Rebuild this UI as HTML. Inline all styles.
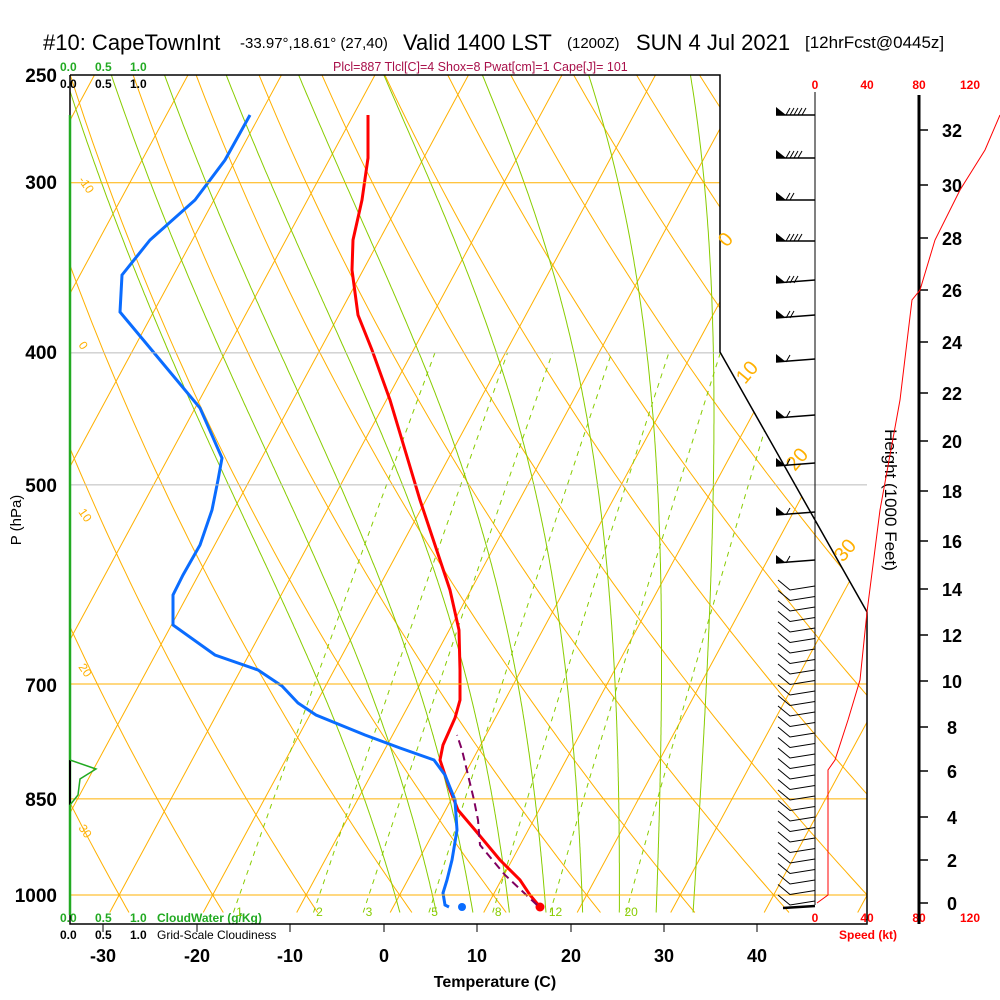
<!DOCTYPE html>
<html><head><meta charset="utf-8"><style>
body{margin:0;background:#fff}
svg{display:block}
text{font-family:"Liberation Sans",sans-serif}
</style></head><body>
<svg id="s" width="1000" height="1000" xmlns="http://www.w3.org/2000/svg">
<defs><clipPath id="c"><polygon points="70,75 720,75 720,352 867,612 867,924 70,924"/></clipPath>
<clipPath id="c2"><polygon points="70,352 720,352 867,612 867,924 70,924"/></clipPath></defs>
<g id="grid" clip-path="url(#c)"></g>
<g id="mr" clip-path="url(#c2)"></g>
<g id="data"></g>
<text x="43" y="50" font-size="22">#10: CapeTownInt</text>
<text x="240" y="48" font-size="15">-33.97°,18.61° (27,40)</text>
<text x="403" y="50" font-size="22">Valid 1400 LST</text>
<text x="567" y="48" font-size="15">(1200Z)</text>
<text x="636" y="50" font-size="22">SUN 4 Jul 2021</text>
<text x="805" y="48" font-size="17">[12hrFcst@0445z]</text>
<text x="333" y="71" font-size="12.5" fill="#a8104a">Plcl=887 Tlcl[C]=4 Shox=8 Pwat[cm]=1 Cape[J]= 101</text>
<g font-size="12" font-weight="bold">
<text x="60" y="71" fill="#22aa22">0.0</text><text x="95" y="71" fill="#22aa22">0.5</text><text x="130" y="71" fill="#22aa22">1.0</text>
<text x="60" y="88">0.0</text><text x="95" y="88">0.5</text><text x="130" y="88">1.0</text>
<text x="60" y="922" fill="#22aa22">0.0</text><text x="95" y="922" fill="#22aa22">0.5</text><text x="130" y="922" fill="#22aa22">1.0</text><text x="157" y="922" fill="#22aa22">CloudWater (g/Kg)</text>
<text x="60" y="939">0.0</text><text x="95" y="939">0.5</text><text x="130" y="939">1.0</text><text x="157" y="939" font-weight="normal">Grid-Scale Cloudiness</text>
</g>
<g font-size="19" font-weight="bold" text-anchor="end">
<text x="57" y="82">250</text><text x="57" y="189">300</text><text x="57" y="359">400</text><text x="57" y="492">500</text><text x="57" y="692">700</text><text x="57" y="806">850</text><text x="57" y="902">1000</text>
</g>
<text transform="translate(21,520) rotate(-90)" font-size="15" text-anchor="middle">P (hPa)</text>
<g font-size="18" font-weight="bold" text-anchor="middle">
<text x="103" y="962">-30</text><text x="197" y="962">-20</text><text x="290" y="962">-10</text><text x="384" y="962">0</text><text x="477" y="962">10</text><text x="571" y="962">20</text><text x="664" y="962">30</text><text x="757" y="962">40</text>
</g>
<text x="495" y="987" font-size="16" font-weight="bold" text-anchor="middle">Temperature (C)</text>
<g font-size="12" fill="#ff0000" font-weight="bold" text-anchor="middle">
<text x="815" y="89">0</text><text x="867" y="89">40</text><text x="919" y="89">80</text><text x="970" y="89">120</text>
<text x="815" y="922">0</text><text x="867" y="922">40</text><text x="919" y="922">80</text><text x="970" y="922">120</text>
<text x="868" y="939">Speed (kt)</text>
</g>
<text transform="translate(885,500) rotate(90)" font-size="17" text-anchor="middle">Height (1000 Feet)</text>
</svg>
<script>
var s=document.getElementById('s'),NS='http://www.w3.org/2000/svg';
function el(p,t,a){var e=document.createElementNS(NS,t);for(var k in a)e.setAttribute(k,a[k]);(p||s).appendChild(e);return e;}
function Y(p){return 895-591.6*Math.log(1000/p);}
function X(T,p){return 384+9.35*T+0.54*(924-Y(p));}
var g=document.getElementById('grid'),mr=document.getElementById('mr'),d=document.getElementById('data');
var OR='#ffb000';
function pl(par,pts,a){a.points=pts.map(function(q){return q[0].toFixed(1)+','+q[1].toFixed(1)}).join(' ');a.fill='none';return el(par,'polyline',a);}
for(var T=-140;T<=50;T+=10){pl(g,[[X(T,1030),Y(1030)],[X(T,240),Y(240)]],{stroke:OR,'stroke-width':1});}
for(var th=-40;th<=160;th+=10){var pts=[];for(var p=1030;p>=240;p-=10){var Tk=(th+273.15)*Math.pow(p/1000,0.2857)-273.15;pts.push([X(Tk,p),Y(p)]);}pl(g,pts,{stroke:OR,'stroke-width':1});}
function es(T){return 6.112*Math.exp(17.67*T/(T+243.5));}
for(var t0=-0.5;t0<=32;t0+=4){var Tk,pts=[],p;
 var Tc=t0+273.15,pp=1000;while(pp<1030){var e=es(Tc-273.15),rs=0.622*e/(pp-e);var dT=(287*Tc+2.5e6*rs)/(1004+2.5e6*2.5e6*rs*0.622/(287*Tc*Tc));Tc+=dT*Math.log((pp+2)/pp);pp+=2;}
 p=1030;Tk=Tc;while(p>=240){pts.push([X(Tk-273.15,p),Y(p)]);var e=es(Tk-273.15),rs=0.622*e/(p-e);var dT=(287*Tk+2.5e6*rs)/(1004+2.5e6*2.5e6*rs*0.622/(287*Tk*Tk));Tk-=dT*Math.log(p/(p-2));p-=2;}
 pl(g,pts,{stroke:'#88cc00','stroke-width':1});}
[[300,OR],[700,OR],[850,OR],[1000,OR],[400,'#bbb'],[500,'#bbb']].forEach(function(q){el(s,'line',{x1:70,x2:(q[0]>=500?867:720),y1:Y(q[0]),y2:Y(q[0]),stroke:q[1],'stroke-width':1});});
[1,2,3,5,8,12,20].forEach(function(w,i){var pts=[];for(var p=1030;p>=400;p-=10){var e=w*p/(622+w),l=Math.log(e/6.112),T=243.5*l/(17.67-l);pts.push([X(T,p),Y(p)]);}pl(mr,pts,{stroke:'#88cc00','stroke-width':1,'stroke-dasharray':'5,5'});
 var e=w*1010/(622+w),l=Math.log(e/6.112),T=243.5*l/(17.67-l);var t=el(s,'text',{x:X(T,1010)+2,y:916,'font-size':12,fill:'#88cc00','text-anchor':'middle'});t.textContent=w;});
pl(s,[[70,75],[720,75],[720,352],[867,612],[867,924],[70,924],[70,75]],{stroke:'#000','stroke-width':1.5});
[103,197,290,384,477,571,664,757].forEach(function(x){el(s,'line',{x1:x,x2:x,y1:924,y2:932,stroke:'#000'});});
[[78,180,'-10'],[78,345,'0'],[78,512,'10'],[78,667,'20'],[78,828,'30']].forEach(function(q){var t=el(s,'text',{x:q[0],y:q[1],'font-size':12,fill:OR,transform:'rotate(55 '+q[0]+' '+q[1]+')'});t.textContent=q[2];});
[[727,248,'0'],[745,385,'10'],[795,472,'20'],[843,563,'30']].forEach(function(q){var t=el(s,'text',{x:q[0],y:q[1],'font-size':20,fill:OR,transform:'rotate(-50 '+q[0]+' '+q[1]+')'});t.textContent=q[2];});
el(s,'line',{x1:70,x2:70,y1:115,y2:915,stroke:'#22aa22','stroke-width':2.5});
el(s,'line',{x1:70,x2:70,y1:760,y2:805,stroke:'#000','stroke-width':2});
pl(s,[[70,760],[96,769],[80,779],[78,795],[70,805]],{stroke:'#22aa22','stroke-width':1.5});
pl(d,[[368,115],[368,158],[362,200],[353,240],[352,270],[358,315],[372,350],[390,400],[405,450],[420,500],[435,545],[450,590],[459,630],[460,670],[460,700],[455,718],[443,745],[440,760],[450,790],[458,810],[475,830],[500,860],[520,880],[530,895],[540,907]],{stroke:'#ff0000','stroke-width':3});
el(d,'circle',{cx:540,cy:907,r:4.5,fill:'#ff0000'});
pl(d,[[250,115],[225,160],[195,200],[150,240],[122,275],[120,312],[160,360],[200,408],[222,458],[218,480],[212,510],[200,545],[183,575],[173,595],[173,625],[215,655],[258,670],[282,686],[298,703],[316,715],[365,735],[400,748],[434,760],[445,775],[455,800],[457,830],[452,860],[447,880],[443,893],[445,905],[449,907]],{stroke:'#0a6cff','stroke-width':3});
el(d,'circle',{cx:462,cy:907,r:4,fill:'#0a6cff'});
pl(d,[[537,905],[505,875],[480,845],[478,820],[474,800],[468,775],[462,750],[457,735]],{stroke:'#800060','stroke-width':2,'stroke-dasharray':'8,5'});
el(s,'line',{x1:815,x2:815,y1:92,y2:905,stroke:'#000','stroke-width':1});
el(s,'line',{x1:919,x2:919,y1:95,y2:924,stroke:'#000','stroke-width':3});
[[0,903],[2,860],[4,817],[6,771],[8,727],[10,681],[12,635],[14,589],[16,541],[18,491],[20,441],[22,393],[24,342],[26,290],[28,238],[30,185],[32,130]].forEach(function(q){el(s,'line',{x1:919,x2:928,y1:q[1],y2:q[1],stroke:'#000','stroke-width':1.5});var t=el(s,'text',{x:952,y:q[1]+7,'font-size':18,'font-weight':'bold','text-anchor':'middle'});t.textContent=q[0];});
pl(s,[[817,903],[828,895],[828,770],[835,760],[848,720],[860,680],[867,612],[880,510],[900,400],[912,300],[920,290],[935,240],[960,190],[985,150],[1000,115]],{stroke:'#ff0000','stroke-width':1});
[[115,5],[158,4],[200,2],[241,4],[283,3],[318,2],[362,1],[418,1],[466,1],[515,1],[563,1]].forEach(function(q){var y=q[0];el(s,'line',{x1:776,x2:815,y1:y,y2:y-(y>250?3:0),stroke:'#000','stroke-width':1.5});el(s,'polygon',{points:'776,'+y+' 776,'+(y-8)+' 786,'+y,fill:'#000'});for(var i=0;i<q[1];i++){el(s,'line',{x1:786+i*4,y1:y,x2:790+i*4,y2:y-7,stroke:'#000'});}});
for(var y=590;y<=905;y+=10.5){el(s,'polyline',{points:'815,'+(y-4)+' 790,'+y+' 778,'+(y-10),fill:'none',stroke:'#000','stroke-width':1});}
el(s,'line',{x1:783,x2:815,y1:908,y2:906,stroke:'#000','stroke-width':2.5});
</script>
</body></html>
